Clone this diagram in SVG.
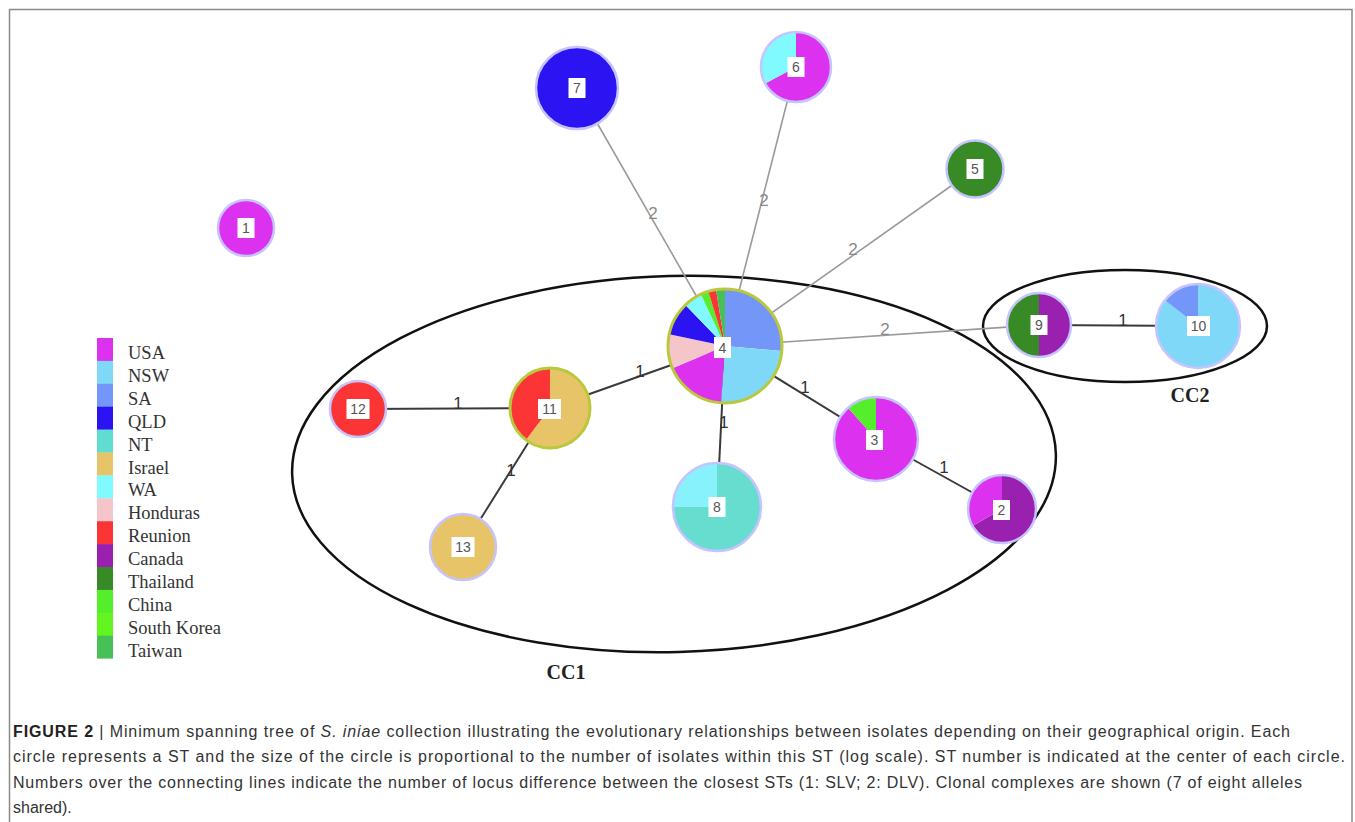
<svg xmlns="http://www.w3.org/2000/svg" width="1355" height="822" viewBox="0 0 1355 822">
<style>
.e1{stroke:#3a3a3a;stroke-width:2;fill:none}
.e2{stroke:#9a9a9a;stroke-width:1.6;fill:none}
.l1{font-family:"Liberation Sans",Arial,sans-serif;font-size:17px;fill:#333;text-anchor:middle;dominant-baseline:central}
.l2{font-family:"Liberation Sans",Arial,sans-serif;font-size:17px;fill:#8a8a8a;text-anchor:middle;dominant-baseline:central}
.ring{fill:none;stroke:#c6c4ff;stroke-width:2.5}
.ringg{fill:none;stroke:#b9c83c;stroke-width:3}
.box{fill:#fff}
.num{font-family:"Liberation Sans",Arial,sans-serif;font-size:14px;fill:#555;text-anchor:middle;dominant-baseline:central}
.leg{font-family:"Liberation Serif","Times New Roman",serif;font-size:18.5px;fill:#333}
.cc{font-family:"Liberation Serif","Times New Roman",serif;font-size:20px;font-weight:bold;fill:#222;text-anchor:middle}
.cap{font-family:"Liberation Sans",Arial,sans-serif;font-size:16px;fill:#333}
.usa{fill:#dc32f0}.nsw{fill:#80d8f8}.sa{fill:#7496f8}.qld{fill:#2c14f2}.nt{fill:#60ddd0}.isr{fill:#e8c468}.wa{fill:#80fafe}.hon{fill:#f4c6ca}.reu{fill:#fb3535}.can{fill:#9a20b0}.tha{fill:#378a26}.chi{fill:#55ee2c}.sko{fill:#62f520}.tai{fill:#48c058}
</style>
<rect x="0" y="0" width="1355" height="822" fill="#fff"/>
<path d="M9.5,822 V9.5 H1352 V822" fill="none" stroke="#8a8a8a" stroke-width="1.5"/>

<g id="clonal-complexes">
<ellipse cx="674" cy="464" rx="382" ry="188" transform="rotate(-1.5 674 464)" fill="none" stroke="#111" stroke-width="2.5"/>
<ellipse cx="1125" cy="326" rx="142" ry="56" fill="none" stroke="#111" stroke-width="2.5"/>
<text class="cc" x="566" y="679">CC1</text>
<text class="cc" x="1190" y="402">CC2</text>
</g>

<g id="connectors">
<line class="e2" x1="725" y1="346" x2="577" y2="88"/>
<line class="e2" x1="725" y1="346" x2="796" y2="67"/>
<line class="e2" x1="725" y1="346" x2="975" y2="169"/>
<line class="e2" x1="725" y1="346" x2="1039" y2="325"/>
<line class="e1" x1="1039" y1="325" x2="1198" y2="326"/>
<line class="e1" x1="725" y1="346" x2="550" y2="408"/>
<line class="e1" x1="550" y1="408" x2="358" y2="409"/>
<line class="e1" x1="550" y1="408" x2="463" y2="547"/>
<line class="e1" x1="725" y1="346" x2="717" y2="507"/>
<line class="e1" x1="725" y1="346" x2="876" y2="439"/>
<line class="e1" x1="876" y1="439" x2="1002" y2="509"/>
<text class="l2" x="653" y="213">2</text>
<text class="l2" x="764" y="200">2</text>
<text class="l2" x="853" y="249">2</text>
<text class="l2" x="885" y="329">2</text>
<text class="l1" x="1123" y="320">1</text>
<text class="l1" x="640" y="371">1</text>
<text class="l1" x="458" y="403">1</text>
<text class="l1" x="511" y="470">1</text>
<text class="l1" x="724" y="422">1</text>
<text class="l1" x="805" y="387">1</text>
<text class="l1" x="944" y="467">1</text>
</g>

<g id="node-1">
<circle class="usa" cx="246" cy="228" r="28"/>
<circle class="ring" cx="246" cy="228" r="28"/>
<rect class="box" x="237.5" y="218" width="17" height="20"/><text class="num" x="246" y="228">1</text>
</g>

<g id="node-7">
<circle class="qld" cx="577" cy="88" r="41"/>
<circle class="ring" cx="577" cy="88" r="41"/>
<rect class="box" x="568.5" y="78" width="17" height="20"/><text class="num" x="577" y="88">7</text>
</g>

<g id="node-6">
<path class="usa" d="M796,67 L796,32 A35,35 0 1 1 765.1,83.43 Z"/>
<path class="wa" d="M796,67 L765.1,83.43 A35,35 0 0 1 796,32 Z"/>
<circle class="ring" cx="796" cy="67" r="35"/>
<rect class="box" x="787.5" y="57" width="17" height="20"/><text class="num" x="796" y="67">6</text>
</g>

<g id="node-5">
<circle class="tha" cx="975" cy="169" r="28.5"/>
<circle class="ring" cx="975" cy="169" r="28.5"/>
<rect class="box" x="966.5" y="159" width="17" height="20"/><text class="num" x="975" y="169">5</text>
</g>

<g id="node-4">
<path class="sa" d="M725,346 L725,289 A57,57 0 0 1 781.78,350.97 Z"/>
<path class="nsw" d="M725,346 L781.78,350.97 A57,57 0 0 1 721.02,402.86 Z"/>
<path class="usa" d="M725,346 L721.02,402.86 A57,57 0 0 1 672.53,368.27 Z"/>
<path class="hon" d="M725,346 L672.53,368.27 A57,57 0 0 1 669.25,334.15 Z"/>
<path class="qld" d="M725,346 L669.25,334.15 A57,57 0 0 1 685.4,305.0 Z"/>
<path class="wa" d="M725,346 L685.4,305.0 A57,57 0 0 1 700.91,294.34 Z"/>
<path class="chi" d="M725,346 L700.91,294.34 A57,57 0 0 1 708.33,291.49 Z"/>
<path class="reu" d="M725,346 L708.33,291.49 A57,57 0 0 1 716.08,289.70 Z"/>
<path class="tai" d="M725,346 L716.08,289.70 A57,57 0 0 1 725,289 Z"/>
<circle class="ringg" cx="725" cy="346" r="57"/>
<rect class="box" x="714" y="337" width="17" height="21"/><text class="num" x="722.5" y="347.5">4</text>
</g>

<g id="node-9">
<path class="can" d="M1039,325 L1039,293 A32,32 0 0 1 1039,357 Z"/>
<path class="tha" d="M1039,325 L1039,357 A32,32 0 0 1 1039,293 Z"/>
<circle class="ring" cx="1039" cy="325" r="32"/>
<rect class="box" x="1030.5" y="315" width="17" height="20"/><text class="num" x="1039" y="325">9</text>
</g>

<g id="node-10">
<path class="nsw" d="M1198,326 L1198,284 A42,42 0 1 1 1164.9,300.14 Z"/>
<path class="sa" d="M1198,326 L1164.9,300.14 A42,42 0 0 1 1198,284 Z"/>
<circle class="ring" cx="1198" cy="326" r="42"/>
<rect class="box" x="1187" y="316" width="23" height="20"/><text class="num" x="1198.5" y="326">10</text>
</g>

<g id="node-11">
<path class="isr" d="M550,408 L550,368 A40,40 0 1 1 525.93,439.94 Z"/>
<path class="reu" d="M550,408 L525.93,439.94 A40,40 0 0 1 550,368 Z"/>
<circle class="ringg" cx="550" cy="408" r="40"/>
<rect class="box" x="538" y="399" width="23" height="20"/><text class="num" x="549.5" y="409">11</text>
</g>

<g id="node-12">
<circle class="reu" cx="358" cy="409" r="28"/>
<circle class="ring" cx="358" cy="409" r="28"/>
<rect class="box" x="346.5" y="399" width="23" height="20"/><text class="num" x="358" y="409">12</text>
</g>

<g id="node-13">
<circle class="isr" cx="463" cy="547" r="33"/>
<circle class="ring" cx="463" cy="547" r="33"/>
<rect class="box" x="451.5" y="537" width="23" height="20"/><text class="num" x="463" y="547">13</text>
</g>

<g id="node-8">
<path fill="#66ddcf" d="M717,507 L717,463 A44,44 0 1 1 673,507 Z"/>
<path fill="#88f2fc" d="M717,507 L673,507 A44,44 0 0 1 717,463 Z"/>
<circle class="ring" cx="717" cy="507" r="44"/>
<rect class="box" x="708.5" y="497" width="17" height="20"/><text class="num" x="717" y="507">8</text>
</g>

<g id="node-3">
<path class="usa" d="M876,439 L876,397 A42,42 0 1 1 847.9,407.79 Z"/>
<path class="chi" d="M876,439 L847.9,407.79 A42,42 0 0 1 876,397 Z"/>
<circle class="ring" cx="876" cy="439" r="42"/>
<rect class="box" x="866" y="430" width="17" height="20"/><text class="num" x="874.5" y="440">3</text>
</g>

<g id="node-2">
<path class="can" d="M1002,509 L1002,475 A34,34 0 1 1 972.56,526 Z"/>
<path class="usa" d="M1002,509 L972.56,526 A34,34 0 0 1 1002,475 Z"/>
<circle class="ring" cx="1002" cy="509" r="34"/>
<rect class="box" x="993" y="500" width="17" height="20"/><text class="num" x="1001.5" y="510">2</text>
</g>

<g id="legend">
<rect class="usa" x="97" y="338" width="16" height="23.2"/>
<rect class="nsw" x="97" y="360.9" width="16" height="23.2"/>
<rect class="sa" x="97" y="383.8" width="16" height="23.2"/>
<rect class="qld" x="97" y="406.7" width="16" height="23.2"/>
<rect class="nt" x="97" y="429.6" width="16" height="23.2"/>
<rect class="isr" x="97" y="452.5" width="16" height="23.2"/>
<rect class="wa" x="97" y="475.4" width="16" height="23.2"/>
<rect class="hon" x="97" y="498.3" width="16" height="23.2"/>
<rect class="reu" x="97" y="521.2" width="16" height="23.2"/>
<rect class="can" x="97" y="544.1" width="16" height="23.2"/>
<rect class="tha" x="97" y="567" width="16" height="23.2"/>
<rect class="chi" x="97" y="589.9" width="16" height="23.2"/>
<rect class="sko" x="97" y="612.8" width="16" height="23.2"/>
<rect class="tai" x="97" y="635.7" width="16" height="22.9"/>
<text class="leg" x="128" y="359">USA</text>
<text class="leg" x="128" y="381.9">NSW</text>
<text class="leg" x="128" y="404.8">SA</text>
<text class="leg" x="128" y="427.7">QLD</text>
<text class="leg" x="128" y="450.6">NT</text>
<text class="leg" x="128" y="473.5">Israel</text>
<text class="leg" x="128" y="496.4">WA</text>
<text class="leg" x="128" y="519.3">Honduras</text>
<text class="leg" x="128" y="542.2">Reunion</text>
<text class="leg" x="128" y="565.1">Canada</text>
<text class="leg" x="128" y="588">Thailand</text>
<text class="leg" x="128" y="610.9">China</text>
<text class="leg" x="128" y="633.8">South Korea</text>
<text class="leg" x="128" y="656.7">Taiwan</text>
</g>

<g id="caption">
<text class="cap" x="13" y="737" textLength="1277" lengthAdjust="spacing"><tspan font-weight="bold" fill="#222">FIGURE 2</tspan> | Minimum spanning tree of <tspan font-style="italic">S. iniae</tspan> collection illustrating the evolutionary relationships between isolates depending on their geographical origin. Each</text>
<text class="cap" x="13" y="762" textLength="1332" lengthAdjust="spacing">circle represents a ST and the size of the circle is proportional to the number of isolates within this ST (log scale). ST number is indicated at the center of each circle.</text>
<text class="cap" x="13" y="788" textLength="1289" lengthAdjust="spacing">Numbers over the connecting lines indicate the number of locus difference between the closest STs (1: SLV; 2: DLV). Clonal complexes are shown (7 of eight alleles</text>
<text class="cap" x="13" y="813">shared).</text>
</g>
</svg>
